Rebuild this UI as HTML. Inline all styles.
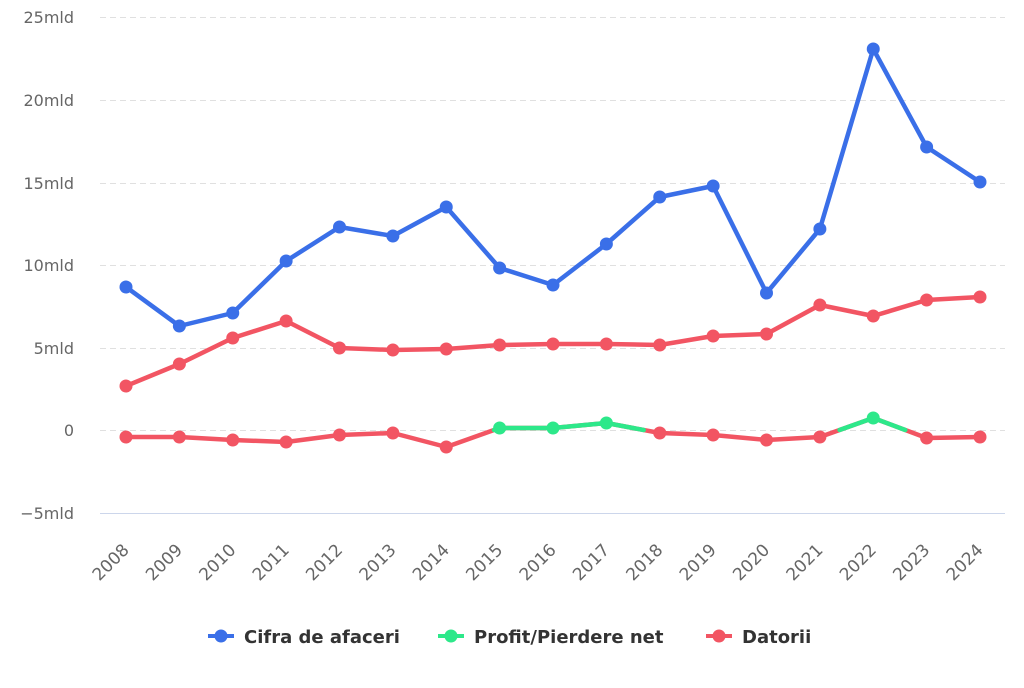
<!DOCTYPE html>
<html><head><meta charset="utf-8"><style>
html,body{margin:0;padding:0;background:#fff;}
text{font-family:"DejaVu Sans","Liberation Sans",sans-serif;}
</style></head><body>
<svg width="1024" height="683" viewBox="0 0 1024 683" xmlns="http://www.w3.org/2000/svg">
<g stroke="#e0e0e0" stroke-width="1" stroke-dasharray="6,4">
<line x1="100" x2="1005" y1="17.5" y2="17.5"/>
<line x1="100" x2="1005" y1="100.5" y2="100.5"/>
<line x1="100" x2="1005" y1="183.5" y2="183.5"/>
<line x1="100" x2="1005" y1="265.5" y2="265.5"/>
<line x1="100" x2="1005" y1="348.5" y2="348.5"/>
<line x1="100" x2="1005" y1="430.5" y2="430.5"/>
</g>
<line x1="100" x2="1005" y1="513.5" y2="513.5" stroke="#ccd6eb" stroke-width="1"/>
<g font-size="16" fill="#666" text-anchor="end">
<text x="74" y="23">25mld</text>
<text x="74" y="106">20mld</text>
<text x="74" y="189">15mld</text>
<text x="74" y="271">10mld</text>
<text x="74" y="354">5mld</text>
<text x="74" y="436">0</text>
<text x="74" y="519">−5mld</text>
</g>
<g font-size="17" fill="#666" text-anchor="end" id="xl"></g>
<polyline fill="none" stroke="#3a6fe8" stroke-width="4.5" stroke-linejoin="round" id="b"/>
<polyline fill="none" stroke="#f25563" stroke-width="4.5" stroke-linejoin="round" id="r"/>
<polyline fill="none" stroke="#f25563" stroke-width="4.5" stroke-linejoin="round" id="p"/>
<g id="pg"></g>
<g id="dots"></g>
<g font-size="18" font-weight="bold" fill="#333">
<line x1="208" x2="234" y1="636" y2="636" stroke="#3a6fe8" stroke-width="4"/><circle cx="221" cy="636" r="6.5" fill="#3a6fe8"/>
<text x="244" y="643">Cifra de afaceri</text>
<line x1="438" x2="464" y1="636" y2="636" stroke="#2de88a" stroke-width="4"/><circle cx="451" cy="636" r="6.5" fill="#2de88a"/>
<text x="474" y="643">Profit/Pierdere net</text>
<line x1="706" x2="732" y1="636" y2="636" stroke="#f25563" stroke-width="4"/><circle cx="719" cy="636" r="6.5" fill="#f25563"/>
<text x="742" y="643">Datorii</text>
</g>
</svg>
<script>
var B=[287,326,313,261,227,236,207,268,285,244,197,186,293,229,49,147,182];
var R=[386,364,338,321,348,350,349,345,344,344,345,336,334,305,316,300,297];
var P=[437,437,440,442,435,433,447,428,428,423,433,435,440,437,418,438,437];
var NS="http://www.w3.org/2000/svg";
function X(i){return 126+i*53.375;}
function pts(a){return a.map(function(y,i){return X(i)+","+y}).join(" ");}
document.getElementById("b").setAttribute("points",pts(B));
document.getElementById("r").setAttribute("points",pts(R));
document.getElementById("p").setAttribute("points",pts(P));
var pg=document.getElementById("pg"),d=document.getElementById("dots"),xl=document.getElementById("xl");
function el(t,a,par){var e=document.createElementNS(NS,t);for(var k in a)e.setAttribute(k,a[k]);par.appendChild(e);return e;}
for(var i=0;i<16;i++){
 var y1=P[i],y2=P[i+1],x1=X(i),x2=X(i+1);
 var a1=y1<430,a2=y2<430;
 if(!a1&&!a2)continue;
 var sx1=x1,sy1=y1,sx2=x2,sy2=y2;
 if(!a1){var t=(y1-430)/(y1-y2);sx1=x1+t*(x2-x1);sy1=430;}
 if(!a2){var t=(y1-430)/(y1-y2);sx2=x1+t*(x2-x1);sy2=430;}
 el("line",{x1:sx1,y1:sy1,x2:sx2,y2:sy2,stroke:"#2de88a","stroke-width":4.5,"stroke-linecap":"round"},pg);
}
for(var i=0;i<17;i++){
 el("circle",{cx:X(i),cy:B[i],r:6.5,fill:"#3a6fe8"},d);
 el("circle",{cx:X(i),cy:R[i],r:6.5,fill:"#f25563"},d);
 el("circle",{cx:X(i),cy:P[i],r:6.5,fill:P[i]<430?"#2de88a":"#f25563"},d);
 var t=el("text",{transform:"translate("+(X(i)+4)+",551) rotate(-45)"},xl);t.textContent=2008+i;
}
</script>
</body></html>
